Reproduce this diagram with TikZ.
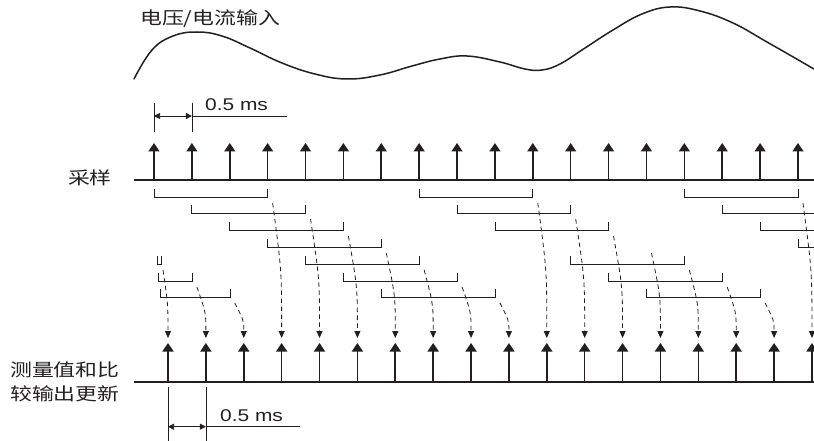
\documentclass[tikz,border=0pt]{standalone}
\usepackage{fontspec}
\newfontfamily\cjk[FakeStretch=1.25]{Noto Sans CJK SC}
\newfontfamily\lat[FakeStretch=1.23]{Liberation Sans}
\usetikzlibrary{arrows.meta,calc}
\definecolor{ink}{HTML}{231F20}
\begin{document}
\begin{tikzpicture}[x=1pt,y=-1pt,color=ink,
  axisline/.style={line width=1.5pt},
  stem/.style={line width=1.6pt,-{Triangle[length=8.5pt,width=11pt]}},
  bracketline/.style={line width=0.8pt},
  flowarrow/.style={line width=0.8pt,dash pattern=on 4.5pt off 3.5pt,-{Triangle[length=7pt,width=6pt]}},
  dimline/.style={line width=0.7pt},
  dimarrow/.style={line width=0.7pt,{Triangle[length=6pt,width=6pt]}-{Triangle[length=6pt,width=6pt]}},
  wave/.style={line width=1.5pt,line cap=round},
  cjklabel/.style={inner sep=0pt,text=ink,font=\cjk\fontsize{17.5}{24}\selectfont},
  latlabel/.style={inner sep=0pt,text=ink,font=\lat\fontsize{17}{20}\selectfont}
]
\useasboundingbox (0,0) rectangle (814,441);

% input waveform
\node[cjklabel,anchor=west] (title) at (140,19) {电压/电流输入};
\draw[wave] plot[smooth,tension=0.7] coordinates {(134,79) (152,50) (173,36) (197,32) (222,36) (250,48) (282,63) (315,74) (347,79) (380,75) (412,66) (440,59) (467,56) (500,62) (525,69) (542,70) (560,64) (585,48) (613,30) (642,14) (670,7) (700,11) (733,23) (767,42) (814,69)};

% coordinates of sample and output points
\foreach \k in {0,...,17} {
  \pgfmathsetmacro\sx{154+37.88*\k}
  \pgfmathsetmacro\ox{168+37.88*\k}
  \coordinate (s\k) at (\sx,180);
  \coordinate (st\k) at (\sx,143);
  \coordinate (o\k) at (\ox,382);
  \coordinate (ot\k) at (\ox,343);
  \coordinate (oe\k) at (\ox,338);
}

% sampling axis
\node[cjklabel,anchor=east] (samplab) at (112,178) {采样};
\coordinate (sa0) at (134,180);
\coordinate (sa1) at (814,180);
\foreach \k in {0,...,17} \draw[stem] (s\k) -- (st\k);
\draw[axisline] (sa0) -- (sa1);

% top dimension
\coordinate (ta0) at (154,103);
\coordinate (ta1) at (154,132);
\coordinate (tb0) at (191.88,103);
\coordinate (tb1) at (191.88,132);
\coordinate (da) at (154,116);
\coordinate (db) at (191.88,116);
\coordinate (dc) at (287,116);
\draw[dimline] (ta0) -- (ta1);
\draw[dimline] (tb0) -- (tb1);
\draw[dimarrow] (da) -- (db);
\draw[dimline] (db) -- (dc);
\node[latlabel,anchor=base west] (tdim) at (205,110.7) {0.5 ms};

% sampling windows (brackets)
\foreach \l/\r/\y in {0/3/197,1/4/213,2/5/230,3/6/247,4/7/264,5/8/281,6/9/297,
                      7/10/197,8/11/213,9/12/230,11/14/264,12/15/281,13/16/297,14/17/197} {
  \pgfmathsetmacro\xl{154+37.88*\l}
  \pgfmathsetmacro\xr{154+37.88*\r}
  \draw[bracketline] (\xl,\y-8) -- (\xl,\y) -- (\xr,\y) -- (\xr,\y-8);
}
\foreach \l/\y in {15/213,16/230,17/247} {
  \pgfmathsetmacro\xl{154+37.88*\l}
  \draw[bracketline] (\xl,\y-8) -- (\xl,\y) -- (814,\y);
}
\draw[bracketline] (157,256) -- (157,264) -- (161,264) -- (161,256);
\draw[bracketline] (158,273) -- (158,281) -- (192,281) -- (192,273);
\draw[bracketline] (160,289) -- (160,297) -- (230,297) -- (230,289);

% dashed transfer arrows
\foreach \k/\y/\dx in {0/264/9,1/281/5,2/297/5,3/197/5,4/213/5,5/230/5,6/247/5,7/264/5,8/281/5,
                       9/297/5,10/197/5,11/213/5,12/230/5,13/247/5,14/264/5,15/281/5,16/297/5,17/197/5} {
  \pgfmathsetmacro\xs{154+37.88*\k+\dx}
  \pgfmathsetmacro\ys{\y+6}
  \pgfmathsetmacro\ym{(\ys+338)/2}
  \pgfmathsetmacro\xe{168+37.88*\k}
  \coordinate (d\k) at (\xs,\ys);
  \coordinate (c\k) at (\xe,\ym);
  \draw[flowarrow] (d\k) .. controls (c\k) .. (oe\k);
}

% output axis
\node[cjklabel,anchor=west,align=left] (outlab) at (10,382) {测量值和比\\较输出更新};
\coordinate (oa0) at (134,382);
\coordinate (oa1) at (814,382);
\foreach \k in {0,...,17} \draw[stem] (o\k) -- (ot\k);
\draw[axisline] (oa0) -- (oa1);

% bottom dimension
\coordinate (ba0) at (168,387);
\coordinate (ba1) at (168,441);
\coordinate (bb0) at (205.88,387);
\coordinate (bb1) at (205.88,441);
\coordinate (ea) at (168,426.7);
\coordinate (eb) at (205.88,426.7);
\coordinate (ec) at (300,426.7);
\draw[dimline] (ba0) -- (ba1);
\draw[dimline] (bb0) -- (bb1);
\draw[dimarrow] (ea) -- (eb);
\draw[dimline] (eb) -- (ec);
\node[latlabel,anchor=base west] (bdim) at (220,421.7) {0.5 ms};
\end{tikzpicture}
\end{document}
